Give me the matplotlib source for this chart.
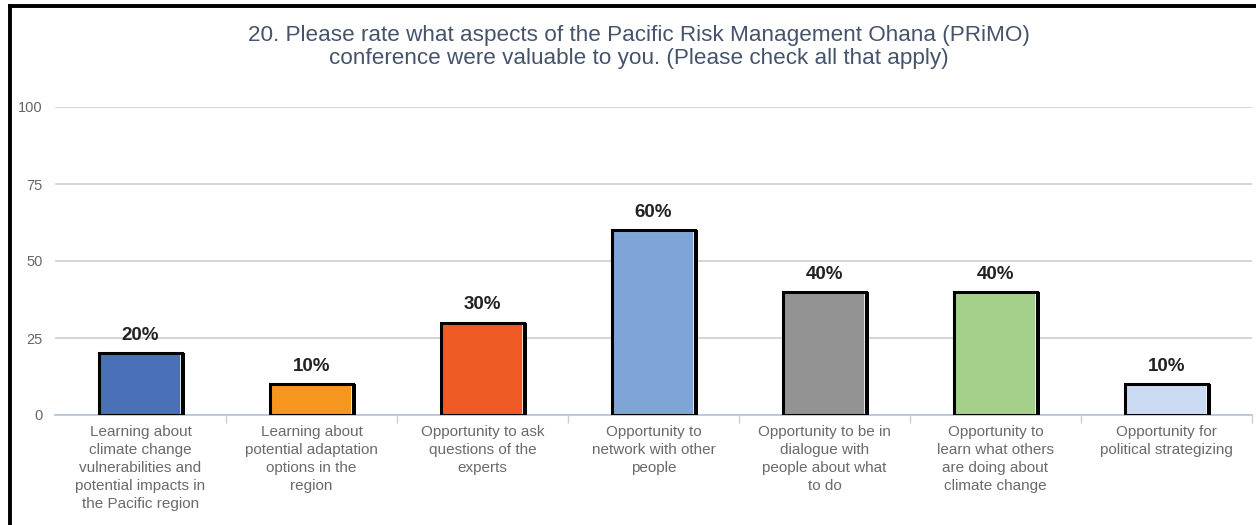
import numpy as np
import matplotlib.pyplot as plt
from matplotlib.lines import Line2D
from matplotlib.ticker import FixedLocator

plt.rcParams["font.family"] = ["Liberation Sans", "DejaVu Sans"]

title = ("20. Please rate what aspects of the Pacific Risk Management Ohana (PRiMO)\n"
         "conference were valuable to you. (Please check all that apply)")

categories = [
    "Learning about\nclimate change\nvulnerabilities and\npotential impacts in\nthe Pacific region",
    "Learning about\npotential adaptation\noptions in the\nregion",
    "Opportunity to ask\nquestions of the\nexperts",
    "Opportunity to\nnetwork with other\npeople",
    "Opportunity to be in\ndialogue with\npeople about what\nto do",
    "Opportunity to\nlearn what others\nare doing about\nclimate change",
    "Opportunity for\npolitical strategizing",
]
percents = [20, 10, 30, 60, 40, 40, 10]
colors = ["#4a70b8", "#f7961f", "#f05a24", "#7fa5d7", "#939393", "#a4d08c", "#cbdcf2"]
yticks = [0, 25, 50, 75, 100]

fig = plt.figure(figsize=(12.56, 5.25), dpi=100)
ax = fig.add_axes([55 / 1256, 110 / 525, 1197 / 1256, 308 / 525])

x = np.arange(len(percents))
width = 0.48
shadow = 0.022

# drop shadow on the right, then the filled bar and its black frame
ax.bar(x + shadow, percents, width, color="black", zorder=3)
ax.bar(x, percents, width - 0.012, color=colors, edgecolor="white",
       linewidth=1.2, zorder=4)
ax.bar(x, percents, width, fill=False, edgecolor="black", linewidth=2.2, zorder=5)

for xi, p in zip(x, percents):
    ax.text(xi, p + 3.0, "%d%%" % p, ha="center", va="bottom",
            fontsize=13.5, fontweight="bold", color="#222222", zorder=6)

ax.set_xlim(-0.5, len(percents) - 0.5)
ax.set_ylim(0, 100)
ax.set_yticks(yticks)
ax.yaxis.grid(True, color="#d2d2d2", linewidth=1.3)
ax.set_axisbelow(True)

ax.set_xticks(x)
ax.set_xticklabels(categories, fontsize=11, color="#6a6a6a", linespacing=1.36)
ax.xaxis.set_minor_locator(FixedLocator(np.arange(0.5, len(percents), 1.0)))
ax.tick_params(axis="x", which="major", length=0, pad=7)
ax.tick_params(axis="x", which="minor", length=6, color="#c5d0de", width=1)
ax.tick_params(axis="y", length=0, labelsize=10.5, labelcolor="#666666", pad=9)

for side in ["top", "right", "left"]:
    ax.spines[side].set_visible(False)
ax.spines["bottom"].set_color("#b9c7da")
ax.spines["bottom"].set_linewidth(1.3)

fig.text(639 / 1256, 1 - 47 / 525, title, ha="center", va="center",
         fontsize=16.2, color="#45536b", linespacing=1.12,
         family=["Liberation Sans Narrow", "Liberation Sans", "DejaVu Sans"])

# outer frame (top and left edges)
fig.add_artist(Line2D([9.5 / 1256, 1.0], [1 - 5.5 / 525, 1 - 5.5 / 525],
                      transform=fig.transFigure, color="black", linewidth=2.8))
fig.add_artist(Line2D([9.5 / 1256, 9.5 / 1256], [0.0, 1 - 5.5 / 525],
                      transform=fig.transFigure, color="black", linewidth=2.8))

fig.savefig("out.png", dpi=100)
